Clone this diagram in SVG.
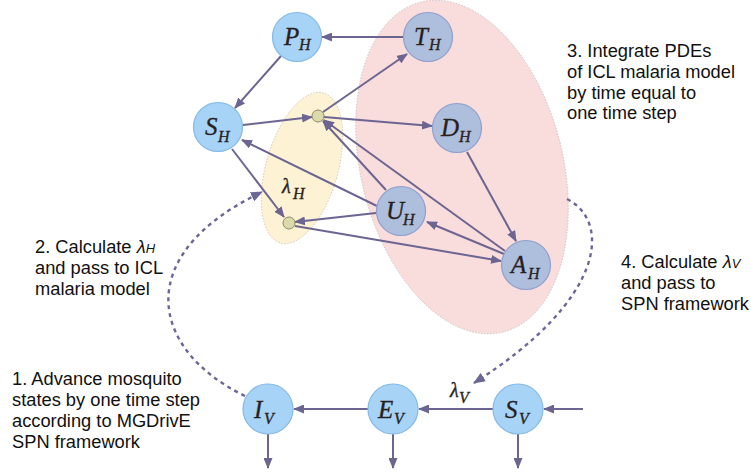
<svg xmlns="http://www.w3.org/2000/svg" width="751" height="474" viewBox="0 0 751 474">
<style>
.bg{fill:#ffffff}
.blue{fill:#a6d3f6;stroke:#84b9e6;stroke-width:1.2}
.grey{fill:#aebfdd;stroke:#8e9fcf;stroke-width:1.2}
.dot{fill:#dcd9ab;stroke:#8c8b68;stroke-width:1}
.lab{font-family:"Liberation Serif",serif;font-style:italic;fill:#2a1f1f;stroke:#2a1f1f;stroke-width:0.35}
.m{font-size:25px}
.s{font-size:16px}
.txt{font-family:"Liberation Sans",Arial,sans-serif;font-size:18.3px;fill:#111111}
.edge{stroke:#6d6591;stroke-width:2;fill:none;marker-end:url(#ah)}
.dash{stroke:#6b6898;stroke-width:2.4;fill:none;stroke-dasharray:4 4;marker-end:url(#ahd)}
</style>
<defs>
<marker id="ah" markerUnits="userSpaceOnUse" markerWidth="11" markerHeight="9" refX="10" refY="4.5" orient="auto">
<path d="M0,0 L11,4.5 L0,9 z" fill="#6d6591"/>
</marker>
<marker id="ahd" markerUnits="userSpaceOnUse" markerWidth="12" markerHeight="10" refX="11" refY="5" orient="auto">
<path d="M0,0 L12,5 L0,10 z" fill="#6b6898"/>
</marker>
</defs>
<rect class="bg" x="0" y="0" width="751" height="474"/>

<g id="regions">
<ellipse id="icl-region" cx="462" cy="167" rx="101" ry="170" transform="rotate(-14 462 167)" fill="#f9dcdc" stroke="#c9b8b8" stroke-width="0.8" stroke-dasharray="1.5 1.5"/>
<ellipse id="lambda-region" cx="302" cy="168" rx="36" ry="78" transform="rotate(16 302 168)" fill="#fdf2d4" stroke="#c9c2aa" stroke-width="0.8" stroke-dasharray="1.5 1.5"/>
</g>

<g id="connectors">
<path class="edge" d="M403,37 L322,37"/>
<path class="edge" d="M281,56 L235,108"/>
<path class="edge" d="M243,125 L312,117"/>
<path class="edge" d="M323,112 L407,54"/>
<path class="edge" d="M324,117 L432,126"/>
<path class="edge" d="M386,190 L323,121"/>
<path class="edge" d="M505,251 L324,120"/>
<path class="edge" d="M377,206 L242,140"/>
<path class="edge" d="M232,149 L284,217"/>
<path class="edge" d="M376,213 L295,222"/>
<path class="edge" d="M295,226 L501,261"/>
<path class="edge" d="M504,254 L427,222"/>
<path class="edge" d="M467,152 L516,241"/>
<path class="edge" d="M583,409 L544,409"/>
<path class="edge" d="M494,409 L419,409"/>
<path class="edge" d="M368,409 L294,409"/>
<path class="edge" d="M268,434 L268,468"/>
<path class="edge" d="M393,434 L393,468"/>
<path class="edge" d="M518,434 L518,468"/>
<path class="dash" d="M245,396 C150,350 130,255 262,192"/>
<path class="dash" d="M567,199 C612,222 605,300 474,383"/>
</g>

<g id="node-PH"><circle class="blue" cx="297" cy="37" r="24.5"/><text class="lab"><tspan class="m" x="284" y="45">P</tspan><tspan class="s" x="299" y="50">H</tspan></text></g>
<g id="node-TH"><circle class="grey" cx="428" cy="37" r="24.5"/><text class="lab"><tspan class="m" x="414" y="45">T</tspan><tspan class="s" x="429" y="50">H</tspan></text></g>
<g id="node-SH"><circle class="blue" cx="218" cy="127" r="24.5"/><text class="lab"><tspan class="m" x="205" y="135">S</tspan><tspan class="s" x="218" y="142">H</tspan></text></g>
<g id="node-DH"><circle class="grey" cx="457" cy="128" r="24.5"/><text class="lab"><tspan class="m" x="441" y="136">D</tspan><tspan class="s" x="459" y="142">H</tspan></text></g>
<g id="node-UH"><circle class="grey" cx="401" cy="211" r="24.5"/><text class="lab"><tspan class="m" x="386" y="219">U</tspan><tspan class="s" x="403" y="225">H</tspan></text></g>
<g id="node-AH"><circle class="grey" cx="526" cy="265" r="24.5"/><text class="lab"><tspan class="m" x="511" y="273">A</tspan><tspan class="s" x="528" y="279">H</tspan></text></g>
<g id="node-c1"><circle class="dot" cx="318" cy="116" r="6"/></g>
<g id="node-c2"><circle class="dot" cx="289" cy="223" r="6"/></g>
<g id="node-IV"><circle class="blue" cx="268" cy="409" r="25"/><text class="lab"><tspan class="m" x="254" y="418">I</tspan><tspan class="s" x="264" y="424">V</tspan></text></g>
<g id="node-EV"><circle class="blue" cx="393" cy="409" r="25"/><text class="lab"><tspan class="m" x="378" y="418">E</tspan><tspan class="s" x="394" y="424">V</tspan></text></g>
<g id="node-SV"><circle class="blue" cx="518" cy="409" r="25"/><text class="lab"><tspan class="m" x="505" y="418">S</tspan><tspan class="s" x="519" y="424">V</tspan></text></g>

<g id="labels">
<text class="lab"><tspan font-size="20px" x="282" y="193">λ</tspan><tspan class="s" x="293" y="199">H</tspan></text>
<text class="lab"><tspan font-size="20px" x="450" y="397">λ</tspan><tspan class="s" x="459" y="403">V</tspan></text>
<text class="txt"><tspan x="567" y="57">3. Integrate PDEs</tspan><tspan x="567" y="78">of ICL malaria model</tspan><tspan x="567" y="99">by time equal to</tspan><tspan x="567" y="119">one time step</tspan></text>
<text class="txt"><tspan x="35" y="253">2. Calculate <tspan font-style="italic">λ</tspan><tspan font-style="italic" font-size="13px">H</tspan></tspan><tspan x="35" y="274">and pass to ICL</tspan><tspan x="35" y="295">malaria model</tspan></text>
<text class="txt"><tspan x="621" y="268">4. Calculate <tspan font-style="italic">λ</tspan><tspan font-style="italic" font-size="13px">V</tspan></tspan><tspan x="621" y="289">and pass to</tspan><tspan x="621" y="310">SPN framework</tspan></text>
<text class="txt"><tspan x="12" y="385">1. Advance mosquito</tspan><tspan x="12" y="406">states by one time step</tspan><tspan x="12" y="427">according to MGDrivE</tspan><tspan x="12" y="448">SPN framework</tspan></text>
</g>
</svg>
